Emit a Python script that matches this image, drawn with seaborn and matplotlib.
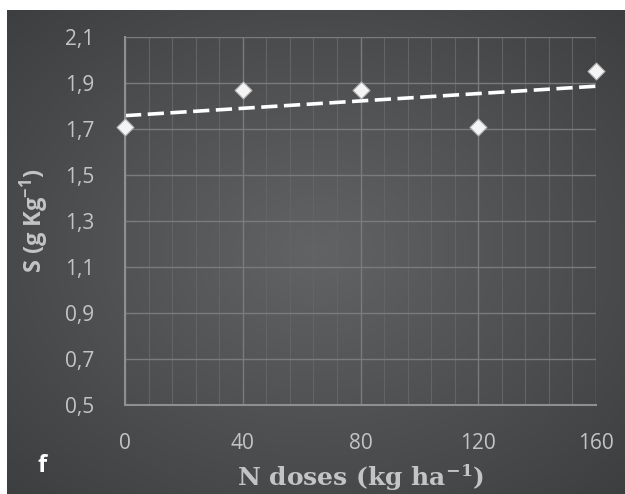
import numpy as np
import pandas as pd
import matplotlib
matplotlib.use("Agg")
import matplotlib.pyplot as plt
import seaborn as sns
from matplotlib.ticker import MultipleLocator, FuncFormatter

n_doses = [0, 40, 80, 120, 160]
s_values = [1.71, 1.87, 1.87, 1.71, 1.95]
x_ticks = [0, 40, 80, 120, 160]
y_ticks = [0.5, 0.7, 0.9, 1.1, 1.3, 1.5, 1.7, 1.9, 2.1]

df = pd.DataFrame({"dose": n_doses, "s": s_values})

sns.set_style("white")
plt.rcParams["font.family"] = ["Open Sans", "DejaVu Sans"]
plt.rcParams["mathtext.default"] = "regular"

fig = plt.figure(figsize=(6.25, 4.94), dpi=100)
fig.patch.set_facecolor("white")

# dark radial gradient panel behind the chart
bg = fig.add_axes([7 / 625, 0, 618 / 625, 484 / 494])
yy, xx = np.mgrid[0:1:300j, 0:1:400j]
r = np.sqrt(((xx - 0.5) / 0.75) ** 2 + ((yy - 0.5) / 0.75) ** 2)
shade = np.clip(1 - r, 0, 1)
c0 = np.array([0x3b, 0x3c, 0x3e]) / 255
c1 = np.array([0x62, 0x63, 0x65]) / 255
img = c0 + (c1 - c0) * shade[..., None]
bg.imshow(img, aspect="auto", extent=[0, 1, 0, 1], interpolation="bilinear")
bg.set_axis_off()

ax = fig.add_axes([125 / 625, 89 / 494, 471 / 625, 368 / 494])
ax.patch.set_alpha(0)

sns.regplot(data=df, x="dose", y="s", ax=ax, scatter=False, ci=None,
            line_kws=dict(color="white", lw=2.6, ls=(0, (4.5, 1.8))))
sns.scatterplot(data=df, x="dose", y="s", ax=ax, marker="D", s=75,
                color="#f4f4f4", edgecolor="#b0b0b0", linewidth=0.8,
                zorder=5, clip_on=False)

ax.set_xlim(0, 160)
ax.set_ylim(0.5, 2.1)
ax.set_xticks(x_ticks)
ax.set_yticks(y_ticks)
ax.xaxis.set_minor_locator(MultipleLocator(8))
ax.yaxis.set_major_formatter(FuncFormatter(lambda v, p: f"{v:.1f}".replace(".", ",")))
ax.grid(True, which="major", color="#7a7b7d", lw=1.0)
ax.grid(True, which="minor", axis="x", color="#636466", lw=0.8)
ax.set_axisbelow(True)
for side in ["top", "right"]:
    ax.spines[side].set_visible(False)
for side in ["left", "bottom"]:
    ax.spines[side].set_color("#8e8f91")
    ax.spines[side].set_linewidth(1.5)
ax.tick_params(axis="both", which="both", length=0, labelsize=15, colors="#c4c4c4")
ax.tick_params(axis="x", pad=20)
ax.tick_params(axis="y", pad=22)

ax.set_xlabel("N doses (kg ha$^{-1}$)", family="DejaVu Serif", fontweight="bold",
              fontsize=18, color="#c4c4c4", labelpad=6)
ax.set_ylabel("S (g Kg$^{-1}$)", fontweight="bold", fontsize=17,
              color="#c4c4c4", labelpad=10)

fig.text(42 / 625, 1 - 466 / 494, "f", color="white", fontsize=17,
         fontweight="bold", ha="center", va="center")

fig.savefig("out.png", dpi=100)
